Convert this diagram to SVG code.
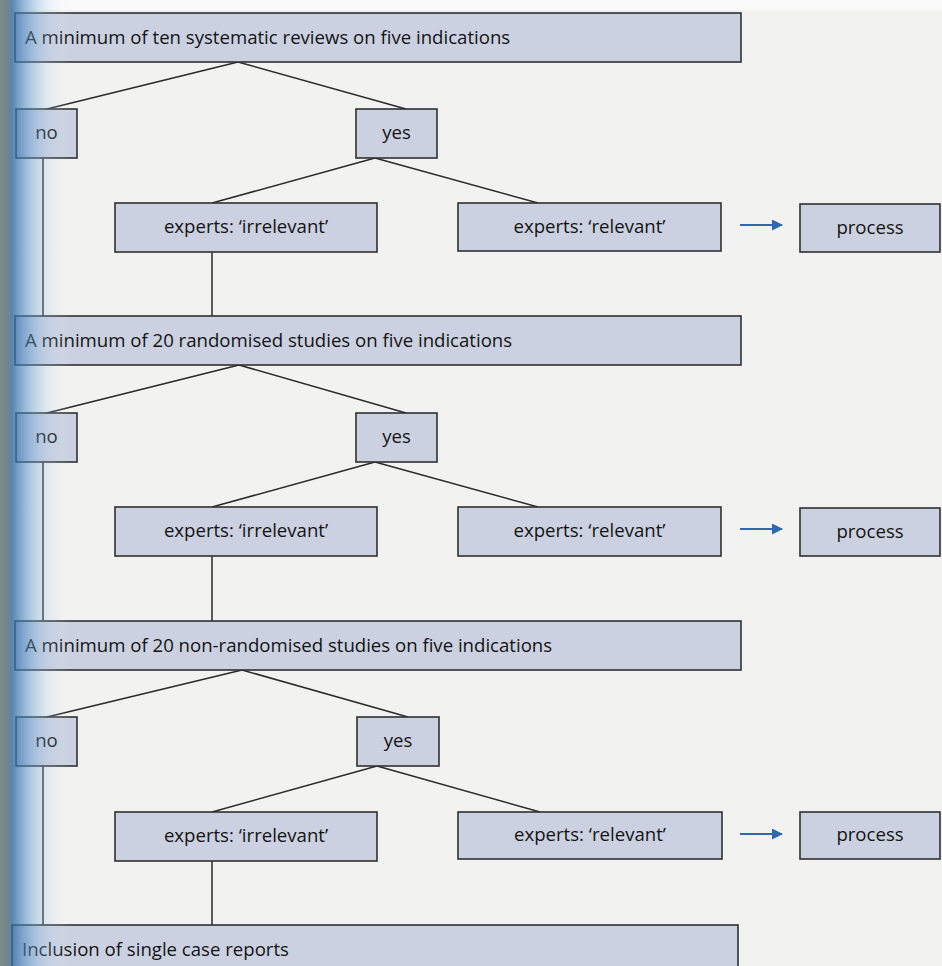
<svg xmlns="http://www.w3.org/2000/svg" width="942" height="966" viewBox="0 0 942 966">
  <defs>
    <linearGradient id="spine" x1="0" y1="0" x2="1" y2="0">
      <stop offset="0" stop-color="#76857f" stop-opacity="0.95"/>
      <stop offset="0.1" stop-color="#627a80" stop-opacity="0.9"/>
      <stop offset="0.17" stop-color="#356aa0" stop-opacity="0.8"/>
      <stop offset="0.35" stop-color="#4e8cc6" stop-opacity="0.55"/>
      <stop offset="0.65" stop-color="#9cc4e4" stop-opacity="0.22"/>
      <stop offset="1" stop-color="#ffffff" stop-opacity="0"/>
    </linearGradient>
    <marker id="arr" markerWidth="11" markerHeight="11" refX="10" refY="5.5" orient="auto" markerUnits="userSpaceOnUse">
      <path d="M0,0 L11,5.5 L0,11 Z" fill="#2f68ad"/>
    </marker>
    <style>
      .box { fill: #cbd1e1; stroke: #303030; stroke-width: 1.6; }
      .lbl { font-family: "Open Sans", "Noto Sans", sans-serif; font-size: 18.6px; fill: #141414; }
      .c { text-anchor: middle; }
      .ln { fill: none; stroke: #2b2b2b; stroke-width: 1.5; }
      .ar { fill: none; stroke: #2f68ad; stroke-width: 2.2; }
    </style>
  </defs>

  <rect x="0" y="0" width="942" height="966" fill="#f2f2f0"/>
  <rect x="0" y="0" width="942" height="10" fill="#fafafa"/>

  <g id="connectors">
    <path class="ln" d="M238,62 L47,109 M238,62 L406,109"/>
    <path class="ln" d="M375,158 L212,203 M375,158 L538,203"/>
    <path class="ln" d="M43,158 V316 M212,252 V316"/>
    <path class="ln" d="M239,365 L47,413 M239,365 L406,413"/>
    <path class="ln" d="M375,462 L212,507 M375,462 L538,507"/>
    <path class="ln" d="M43,462 V621 M212,556 V621"/>
    <path class="ln" d="M242,670 L47,717 M242,670 L408,717"/>
    <path class="ln" d="M377,766 L212,812 M377,766 L540,812"/>
    <path class="ln" d="M43,766 V925 M212,861 V925"/>
    <line class="ar" x1="740" y1="225" x2="782" y2="225" marker-end="url(#arr)"/>
    <line class="ar" x1="740" y1="529" x2="782" y2="529" marker-end="url(#arr)"/>
    <line class="ar" x1="740" y1="834" x2="782" y2="834" marker-end="url(#arr)"/>
  </g>

  <g id="q1">
    <rect class="box" x="15" y="13" width="726" height="49"/>
    <text class="lbl" x="25" y="44">A minimum of ten systematic reviews on five indications</text>
  </g>
  <g id="no1">
    <rect class="box" x="16" y="109" width="61" height="49"/>
    <text class="lbl c" x="46.5" y="139">no</text>
  </g>
  <g id="yes1">
    <rect class="box" x="356" y="109" width="81" height="49"/>
    <text class="lbl c" x="396.5" y="139">yes</text>
  </g>
  <g id="irr1">
    <rect class="box" x="115" y="203" width="262" height="49"/>
    <text class="lbl c" x="246" y="233">experts: ‘irrelevant’</text>
  </g>
  <g id="rel1">
    <rect class="box" x="458" y="203" width="263" height="48"/>
    <text class="lbl c" x="589.5" y="233">experts: ‘relevant’</text>
  </g>
  <g id="proc1">
    <rect class="box" x="800" y="204" width="140" height="48"/>
    <text class="lbl c" x="870" y="234">process</text>
  </g>

  <g id="q2">
    <rect class="box" x="15" y="316" width="726" height="49"/>
    <text class="lbl" x="25" y="347">A minimum of 20 randomised studies on five indications</text>
  </g>
  <g id="no2">
    <rect class="box" x="16" y="413" width="61" height="49"/>
    <text class="lbl c" x="46.5" y="443">no</text>
  </g>
  <g id="yes2">
    <rect class="box" x="356" y="413" width="81" height="49"/>
    <text class="lbl c" x="396.5" y="443">yes</text>
  </g>
  <g id="irr2">
    <rect class="box" x="115" y="507" width="262" height="49"/>
    <text class="lbl c" x="246" y="537">experts: ‘irrelevant’</text>
  </g>
  <g id="rel2">
    <rect class="box" x="458" y="507" width="263" height="49"/>
    <text class="lbl c" x="589.5" y="537">experts: ‘relevant’</text>
  </g>
  <g id="proc2">
    <rect class="box" x="800" y="508" width="140" height="48"/>
    <text class="lbl c" x="870" y="538">process</text>
  </g>

  <g id="q3">
    <rect class="box" x="15" y="621" width="726" height="49"/>
    <text class="lbl" x="25" y="652">A minimum of 20 non-randomised studies on five indications</text>
  </g>
  <g id="no3">
    <rect class="box" x="16" y="717" width="61" height="49"/>
    <text class="lbl c" x="46.5" y="747">no</text>
  </g>
  <g id="yes3">
    <rect class="box" x="357" y="717" width="82" height="49"/>
    <text class="lbl c" x="398" y="747">yes</text>
  </g>
  <g id="irr3">
    <rect class="box" x="115" y="812" width="262" height="49"/>
    <text class="lbl c" x="246" y="842">experts: ‘irrelevant’</text>
  </g>
  <g id="rel3">
    <rect class="box" x="458" y="812" width="264" height="47"/>
    <text class="lbl c" x="590" y="841">experts: ‘relevant’</text>
  </g>
  <g id="proc3">
    <rect class="box" x="800" y="812" width="140" height="47"/>
    <text class="lbl c" x="870" y="841">process</text>
  </g>

  <g id="q4">
    <rect class="box" x="12" y="925" width="726" height="60"/>
    <text class="lbl" x="22" y="956">Inclusion of single case reports</text>
  </g>

  <rect x="0" y="0" width="72" height="966" fill="url(#spine)"/>
</svg>
